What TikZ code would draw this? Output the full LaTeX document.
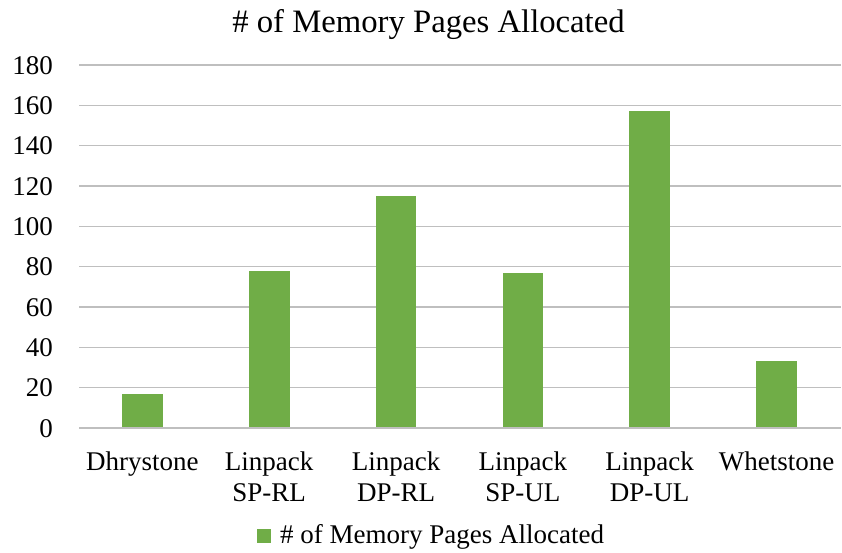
\documentclass[tikz,border=0pt]{standalone}
\usepackage{fontspec}
\setmainfont{Liberation Serif}
\definecolor{bargreen}{HTML}{70AD47}
\definecolor{gridgray}{RGB}{191,191,191}
\begin{document}
\begin{tikzpicture}[x=1pt,y=-1pt,
  lbl/.style={font=\fontsize{27}{31}\selectfont, inner sep=0pt, text=black},
  ticklbl/.style={lbl, anchor=base east},
  catlbl/.style={lbl, anchor=base},
  ttl/.style={font=\fontsize{32.7}{36}\selectfont, inner sep=0pt, anchor=base},
  gridln/.style={draw=gridgray, line width=1.3pt},
  bar/.style={fill=bargreen}]
\useasboundingbox[fill=white] (0,0) rectangle (842,553);
% title
\node[ttl] (title) at (428.5,33) {\# of Memory Pages Allocated};
% gridlines and tick labels
\foreach \k in {0,...,9}{
  \pgfmathsetmacro{\yy}{428-40.333*\k}
  \pgfmathtruncatemacro{\val}{20*\k}
  \coordinate (gl\k) at (79,\yy);
  \coordinate (gr\k) at (841,\yy);
  \draw[gridln] (gl\k) -- (gr\k);
  \node[ticklbl] (t\k) at (53,\yy+9) {\val};
}
% bars
\foreach \i/\v in {0/17,1/78,2/115,3/77,4/157,5/33}{
  \pgfmathsetmacro{\cx}{79+126.833*(\i+0.5)}
  \pgfmathsetmacro{\top}{428-2.01667*\v}
  \fill[bar] (\cx-20.3,428) rectangle (\cx+20.3,\top);
}
\draw[gridln] (gl0) -- (gr0);
% category labels
\node[catlbl] (c0) at (142.4,470) {Dhrystone};
\node[catlbl] (c1a) at (269.2,470) {Linpack};
\node[catlbl] (c1b) at (269.2,501) {SP-RL};
\node[catlbl] (c2a) at (396.1,470) {Linpack};
\node[catlbl] (c2b) at (396.1,501) {DP-RL};
\node[catlbl] (c3a) at (522.9,470) {Linpack};
\node[catlbl] (c3b) at (522.9,501) {SP-UL};
\node[catlbl] (c4a) at (649.7,470) {Linpack};
\node[catlbl] (c4b) at (649.7,501) {DP-UL};
\node[catlbl] (c5) at (776.6,470) {Whetstone};
% legend
\fill[bar] (257,529) rectangle (271,543);
\node[lbl, anchor=base west] (leg) at (280,543) {\# of Memory Pages Allocated};
\end{tikzpicture}
\end{document}
